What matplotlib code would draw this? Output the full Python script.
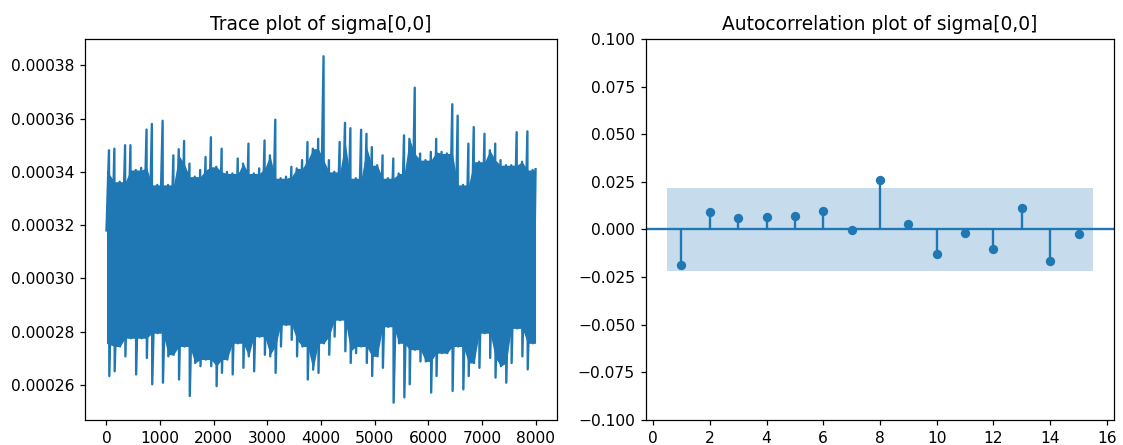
import matplotlib
matplotlib.use('Agg')
import matplotlib.pyplot as plt
import matplotlib.ticker as mticker
import numpy as np

# trace of sigma[0,0]: upper / lower extremes per block of 100 draws
bin_size = 100
trace_hi = [0.0003481, 0.0003487, 0.0003363, 0.0003500, 0.0003500, 0.0003407, 0.0003415, 0.0003559,
            0.0003580, 0.0003351, 0.0003592, 0.0003351, 0.0003462, 0.0003485, 0.0003516, 0.0003431,
            0.0003382, 0.0003407, 0.0003456, 0.0003530, 0.0003419, 0.0003487, 0.0003400, 0.0003394,
            0.0003450, 0.0003431, 0.0003506, 0.0003394, 0.0003413, 0.0003518, 0.0003462, 0.0003596,
            0.0003376, 0.0003382, 0.0003419, 0.0003413, 0.0003444, 0.0003512, 0.0003487, 0.0003524,
            0.0003834, 0.0003444, 0.0003400, 0.0003512, 0.0003584, 0.0003564, 0.0003376, 0.0003558,
            0.0003543, 0.0003493, 0.0003425, 0.0003462, 0.0003376, 0.0003450, 0.0003394, 0.0003537,
            0.0003524, 0.0003716, 0.0003469, 0.0003444, 0.0003475, 0.0003524, 0.0003475, 0.0003469,
            0.0003654, 0.0003611, 0.0003351, 0.0003506, 0.0003568, 0.0003438, 0.0003543, 0.0003481,
            0.0003506, 0.0003444, 0.0003425, 0.0003425, 0.0003549, 0.0003438, 0.0003552, 0.0003407]
trace_lo = [0.0002633, 0.0002651, 0.0002744, 0.0002707, 0.0002775, 0.0002639, 0.0002775, 0.0002701,
            0.0002602, 0.0002794, 0.0002608, 0.0002707, 0.0002713, 0.0002620, 0.0002744, 0.0002558,
            0.0002682, 0.0002670, 0.0002695, 0.0002670, 0.0002595, 0.0002645, 0.0002695, 0.0002639,
            0.0002756, 0.0002664, 0.0002707, 0.0002651, 0.0002781, 0.0002713, 0.0002707, 0.0002645,
            0.0002744, 0.0002825, 0.0002769, 0.0002707, 0.0002744, 0.0002620, 0.0002657, 0.0002645,
            0.0002756, 0.0002713, 0.0002781, 0.0002843, 0.0002726, 0.0002682, 0.0002719, 0.0002744,
            0.0002682, 0.0002633, 0.0002707, 0.0002664, 0.0002818, 0.0002533, 0.0002756, 0.0002553,
            0.0002602, 0.0002732, 0.0002688, 0.0002688, 0.0002571, 0.0002633, 0.0002719, 0.0002719,
            0.0002577, 0.0002744, 0.0002583, 0.0002633, 0.0002682, 0.0002664, 0.0002794, 0.0002701,
            0.0002627, 0.0002670, 0.0002608, 0.0002682, 0.0002812, 0.0002707, 0.0002658, 0.0002756]
trace_first = 0.0003180
trace_last = 0.0003410
n_draws = 8000

# autocorrelation of sigma[0,0], lags 1..15
lags = list(range(1, 16))
acf_vals = [-0.0184, 0.0090, 0.0060, 0.0066, 0.0072, 0.0095, -0.0005, 0.0262,
            0.0031, -0.0131, -0.0016, -0.0102, 0.0112, -0.0167, -0.0024]
conf_band = 0.0219

# trace line: per block the high draw then the low draw
xs = [0]
ys = [trace_first]
for i in range(len(trace_hi)):
    xs += [i * bin_size + 47, i * bin_size + 53]
    ys += [trace_hi[i], trace_lo[i]]
xs.append(n_draws - 1)
ys.append(trace_last)

# dense core of the chain: the band every block fills (local low of the highs, high of the lows)
hi = np.array(trace_hi)
lo = np.array(trace_lo)
core_hi = np.minimum(np.minimum(hi, np.roll(hi, 1)), np.roll(hi, -1))
core_lo = np.maximum(np.maximum(lo, np.roll(lo, 1)), np.roll(lo, -1))
core_x = np.arange(len(hi)) * bin_size + 50
core_x[0] = 0
core_x[-1] = n_draws - 1

fig = plt.figure(figsize=(1123 / 112, 445 / 112), dpi=112)
ax1 = fig.add_axes([0.0757, 0.0562, 0.4203, 0.8562])
ax2 = fig.add_axes([0.5752, 0.0562, 0.4168, 0.8562])

ax1.fill_between(core_x, core_lo, core_hi, color='C0', linewidth=0)
ax1.plot(xs, ys, color='C0', linewidth=1.5)
ax1.set_title('Trace plot of sigma[0,0]')
ax1.set_xlim(-400, 8399)
ax1.set_ylim(0.0002468, 0.0003899)
ax1.set_xticks(range(0, 8001, 1000))
ax1.set_yticks(np.arange(0.00026, 0.000381, 0.00002))
ax1.yaxis.set_major_formatter(mticker.FuncFormatter(lambda v, p: '%.5f' % v))

band_x = [lags[0] - 0.5] + lags + [lags[-1] + 0.5]
ax2.fill_between(band_x, [-conf_band] * len(band_x), [conf_band] * len(band_x),
                 color='C0', alpha=0.25, linewidth=0)
ax2.vlines(lags, 0, acf_vals, color='C0', linewidth=1.5)
ax2.plot(lags, acf_vals, 'o', color='C0', markersize=5)
ax2.axhline(0, color='C0', linewidth=1.5)
ax2.set_title('Autocorrelation plot of sigma[0,0]')
ax2.set_xlim(-0.25, 16.25)
ax2.set_ylim(-0.1, 0.1)
ax2.set_xticks(range(0, 17, 2))
ax2.set_yticks(np.linspace(-0.1, 0.1, 9))
ax2.yaxis.set_major_formatter(mticker.FuncFormatter(
    lambda v, p: ('%.3f' % v).replace('-', '\u2212') if abs(v) > 1e-9 else '0.000'))

fig.savefig('out.png', dpi=112)
